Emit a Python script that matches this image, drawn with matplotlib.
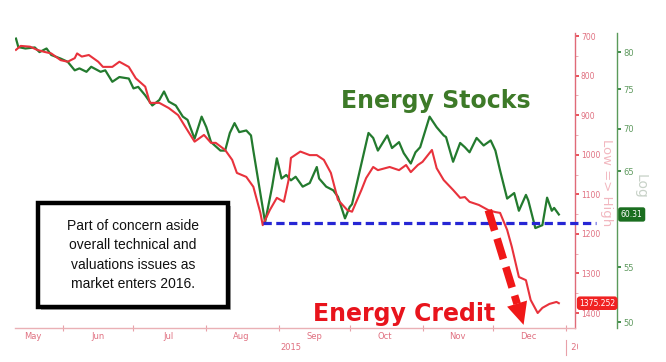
import matplotlib
matplotlib.use('Agg')
import matplotlib.pyplot as plt
import matplotlib.dates as mdates
from matplotlib.ticker import FixedLocator, MultipleLocator, NullLocator, NullFormatter
from matplotlib.patches import Rectangle
from matplotlib import patheffects as pe
from matplotlib.transforms import Bbox
import numpy as np
import pandas as pd

# ---------------- data ----------------
stock_dates = ['2015-05-12','2015-05-13','2015-05-16','2015-05-20','2015-05-22','2015-05-25','2015-05-27','2015-05-31',
               '2015-06-03','2015-06-06','2015-06-08','2015-06-11','2015-06-13','2015-06-17','2015-06-19','2015-06-22','2015-06-25','2015-06-29',
               '2015-07-01','2015-07-03','2015-07-06','2015-07-09','2015-07-12','2015-07-14','2015-07-16','2015-07-19','2015-07-22','2015-07-24','2015-07-27','2015-07-30',
               '2015-08-01','2015-08-03','2015-08-07','2015-08-09','2015-08-11','2015-08-13','2015-08-15','2015-08-18','2015-08-20','2015-08-21','2015-08-26','2015-08-29','2015-08-31',
               '2015-09-02','2015-09-04','2015-09-06','2015-09-08','2015-09-11','2015-09-14','2015-09-17','2015-09-18','2015-09-21','2015-09-24','2015-09-26','2015-09-29',
               '2015-10-01','2015-10-02','2015-10-06','2015-10-09','2015-10-11','2015-10-13','2015-10-17','2015-10-19','2015-10-22','2015-10-24','2015-10-27','2015-10-29','2015-10-31',
               '2015-11-04','2015-11-07','2015-11-10','2015-11-11','2015-11-14','2015-11-17','2015-11-19','2015-11-21','2015-11-24','2015-11-27','2015-11-30',
               '2015-12-02','2015-12-04','2015-12-07','2015-12-10','2015-12-12','2015-12-15','2015-12-16','2015-12-19','2015-12-22','2015-12-24','2015-12-26','2015-12-27','2015-12-29']
stock_values = [81.9,80.7,80.5,80.65,80.0,80.5,79.6,79.1,
                78.66,77.5,77.76,77.3,77.98,77.3,77.5,75.97,76.6,76.4,
                75.1,75.3,74.2,72.9,73.6,74.7,73.4,72.9,71.5,71.1,68.8,71.5,
                70.2,68.4,67.4,67.4,69.5,70.7,69.6,69.8,69.2,67.4,59.5,63.3,66.5,
                64.2,64.6,64.0,64.4,63.3,63.7,65.5,64.2,63.3,62.9,62.2,59.9,
                61.1,61.4,65.9,69.5,68.9,67.4,69.2,67.7,68.4,67.1,65.9,67.2,67.8,
                71.5,70.2,69.2,69.0,66.1,68.3,67.8,67.2,68.9,68.0,68.6,
                67.4,65.1,62.0,62.6,60.7,62.4,61.8,58.9,59.2,62.1,60.7,61.0,60.31]

credit_dates = ['2015-05-12','2015-05-14','2015-05-18','2015-05-21','2015-05-24','2015-05-27','2015-05-31',
                '2015-06-03','2015-06-06','2015-06-07','2015-06-09','2015-06-12','2015-06-16','2015-06-18','2015-06-22','2015-06-25','2015-06-29',
                '2015-07-02','2015-07-06','2015-07-08','2015-07-12','2015-07-16','2015-07-20','2015-07-23','2015-07-27','2015-07-31',
                '2015-08-03','2015-08-05','2015-08-09','2015-08-12','2015-08-14','2015-08-18','2015-08-21','2015-08-24','2015-08-25','2015-08-28','2015-08-31',
                '2015-09-03','2015-09-05','2015-09-06','2015-09-10','2015-09-14','2015-09-17','2015-09-20','2015-09-23','2015-09-26','2015-09-30',
                '2015-10-02','2015-10-06','2015-10-08','2015-10-11','2015-10-13','2015-10-18','2015-10-22','2015-10-25','2015-10-27','2015-10-30',
                '2015-11-01','2015-11-05','2015-11-07','2015-11-10','2015-11-14','2015-11-17','2015-11-19','2015-11-21','2015-11-25','2015-11-29',
                '2015-12-02','2015-12-04','2015-12-07','2015-12-09','2015-12-12','2015-12-15','2015-12-17','2015-12-20','2015-12-22','2015-12-25','2015-12-28','2015-12-29']
credit_values = [735,725,727,735,740,744,761,
                 765,756,744,752,748,765,778,778,765,778,
                 807,828,869,869,882,900,929,967,950,
                 970,970,988,1013,1046,1056,1081,1147,1178,1140,1109,
                 1119,1064,1008,992,1001,1001,1013,1046,1114,1140,
                 1144,1089,1059,1031,1039,1031,1039,1026,1044,1026,
                 1018,988,1034,1064,1089,1109,1107,1119,1127,1140,
                 1145,1147,1190,1233,1309,1317,1367,1400,1387,1377,1372,1375.252]

month_starts = ['2015-06-01','2015-07-01','2015-08-01','2015-09-01','2015-10-01','2015-11-01','2015-12-01','2016-01-01']
month_label_dates = ['2015-05-19','2015-06-16','2015-07-16','2015-08-16','2015-09-16','2015-10-16','2015-11-16','2015-12-16']
month_labels = ['May','Jun','Jul','Aug','Sep','Oct','Nov','Dec']
credit_ticks = [700,800,900,1000,1100,1200,1300,1400]
stock_ticks = [50,55,65,70,75,80]
support_level = 1172
support_start = '2015-08-25'
arrow_start = ('2015-11-29', 1140)
arrow_end = ('2015-12-14', 1430)
note_text = "Part of concern aside\noverall technical and\nvaluations issues as\nmarket enters 2016."

# ---------------- figure ----------------
W, H = 666, 362
fig = plt.figure(figsize=(W/100, H/100), dpi=100)
fig.patch.set_facecolor('white')
L, R, T, B = 15, 575, 33, 328
ax = fig.add_axes([L/W, 1-B/H, (R-L)/W, (B-T)/H])
ax2 = ax.twinx()

RED = '#e8323c'
GREEN = '#237a2e'
PINK = '#e07080'
GLAB = '#5f9a5f'

sd = pd.to_datetime(stock_dates)
cd = pd.to_datetime(credit_dates)

ax.plot(cd, credit_values, color=RED, lw=1.5, zorder=3)
ax2.plot(sd, stock_values, color=GREEN, lw=1.6, zorder=2)
ax.set_zorder(ax2.get_zorder() + 1)
ax.patch.set_visible(False)

# x axis
ax.set_xlim(pd.Timestamp('2015-05-11 14:00'), pd.Timestamp('2016-01-04 21:00'))
ax.xaxis.set_major_locator(FixedLocator(mdates.date2num(pd.to_datetime(month_starts))))
ax.xaxis.set_major_formatter(NullFormatter())
ax.xaxis.set_minor_locator(FixedLocator(mdates.date2num(pd.to_datetime(month_label_dates))))
ax.xaxis.set_minor_formatter(matplotlib.ticker.FixedFormatter(month_labels))
ax.tick_params(axis='x', which='major', direction='inout', length=4, color='#e8a0a8', width=0.8)
ax.tick_params(axis='x', which='minor', length=0, pad=3, labelsize=6, labelcolor=PINK)

# red axis (right)
ax.yaxis.tick_right()
ax.set_ylim(1437.9, 692.4)
ax.set_yticks(credit_ticks)
ax.set_yticklabels([str(v) for v in credit_ticks])
ax.yaxis.set_minor_locator(MultipleLocator(50))
ax.tick_params(axis='y', which='major', direction='out', length=3, width=1.2, color=RED,
               labelsize=5.5, labelcolor=PINK, pad=1.2)
ax.tick_params(axis='y', which='minor', direction='out', length=2, width=0.6, color='#e8a0a8')

for s in ['left', 'top']:
    ax.spines[s].set_visible(False)
    ax2.spines[s].set_visible(False)
ax.spines['right'].set_color('#e06a78')
ax.spines['right'].set_linewidth(1.0)
ax.spines['bottom'].set_color('#eab0b5')
ax.spines['bottom'].set_linewidth(1.0)
ax2.spines['bottom'].set_visible(False)

# green axis (log, outer right)
ax2.set_yscale('log')
ax2.set_ylim(49.5, 82.7)
ax2.yaxis.set_major_locator(FixedLocator(stock_ticks))
ax2.yaxis.set_major_formatter(matplotlib.ticker.FixedFormatter([str(v) for v in stock_ticks]))
ax2.yaxis.set_minor_locator(NullLocator())
ax2.spines['right'].set_position(('outward', 30.2))
ax2.spines['right'].set_color('#5a9a5a')
ax2.spines['right'].set_linewidth(1.0)
ax2.tick_params(axis='y', which='major', direction='out', length=3, width=1.2, color=GREEN,
                labelsize=6, labelcolor=GLAB, pad=1.5)

# support line
ax.plot([pd.Timestamp(support_start), pd.Timestamp('2016-01-14')], [support_level, support_level],
        color='#2626d4', lw=2.3, dashes=(2.6, 1.4), clip_on=False, zorder=4)

# dashed arrow: dashed shaft + solid head
p0 = ax.transData.transform((mdates.date2num(pd.Timestamp(arrow_start[0])), arrow_start[1]))
p1 = ax.transData.transform((mdates.date2num(pd.Timestamp(arrow_end[0])), arrow_end[1]))
vec = p1 - p0
unit = vec / np.hypot(*vec)
head_len = 22
pb = p1 - unit * head_len
pbs = p1 - unit * (head_len - 2)
inv = ax.transData.inverted()
d0 = inv.transform(p0)
db = inv.transform(pb)
dbs = inv.transform(pbs)
d1 = inv.transform(p1)
ax.plot([d0[0], db[0]], [d0[1], db[1]], color='#f01818', lw=5.5, dashes=(2.8, 1.1),
        solid_capstyle='butt', dash_capstyle='butt', zorder=5, clip_on=False)
ax.annotate('', xy=(d1[0], d1[1]), xytext=(dbs[0], dbs[1]), xycoords='data', textcoords='data',
            arrowprops=dict(arrowstyle='-|>,head_width=0.75,head_length=1.6', lw=0,
                            color='#f01818', shrinkA=0, shrinkB=0),
            zorder=5, annotation_clip=False)

# value tags
ax.annotate(f'{credit_values[-1]:.3f}', xy=(1, credit_values[-1]), xycoords=ax.get_yaxis_transform(),
            xytext=(3, 0), textcoords='offset points', ha='left', va='center', fontsize=5.5,
            color='white', annotation_clip=False, zorder=6,
            bbox=dict(boxstyle='round,pad=0.3,rounding_size=0.4', fc='#f02222', ec='none'))
ax2.annotate(f'{stock_values[-1]:.2f}', xy=(1, stock_values[-1]), xycoords=ax2.get_yaxis_transform(),
             xytext=(33, 0), textcoords='offset points', ha='left', va='center', fontsize=5.5,
             color='white', annotation_clip=False, zorder=6,
             bbox=dict(boxstyle='round,pad=0.35,rounding_size=0.3', fc='#1a6e1f', ec='none'))

# axis titles
fig.text(607/W, 1-183/H, 'Low => High', rotation=270, ha='center', va='center', fontsize=9.5,
         color='#f2b8c0')
fig.text(641/W, 1-186/H, 'Log', rotation=270, ha='center', va='center', fontsize=10,
         color='#c8d2c8')

# year labels
x_left, _ = ax.get_xlim()
mid2015 = (x_left + mdates.date2num(pd.Timestamp('2016-01-01'))) / 2
ax.text(mid2015, -0.065, '2015', transform=ax.get_xaxis_transform(), ha='center', va='center',
        fontsize=6, color=PINK)
j1 = mdates.date2num(pd.Timestamp('2016-01-01'))
ax.plot([j1, j1], [-0.04, -0.09], transform=ax.get_xaxis_transform(), color='#e8a0a8', lw=0.8,
        clip_on=False)
t16 = ax.text(j1, -0.065, '  2016', transform=ax.get_xaxis_transform(), ha='left', va='center',
              fontsize=6, color=PINK)
t16.set_clip_box(Bbox.from_extents(0, 0, 578, H))
t16.set_clip_on(True)

# big labels
fig.text(436/W, 1-101/H, 'Energy Stocks', ha='center', va='center', fontsize=17,
         fontweight='bold', color='#3d7a28')
fig.text(404/W, 1-314/H, 'Energy Credit', ha='center', va='center', fontsize=17,
         fontweight='bold', color='#e8141c')

# note box
box = Rectangle((38/W, 1-307/H), 190/W, 104/H, transform=fig.transFigure, facecolor='white',
                edgecolor='black', lw=3.2, zorder=10,
                path_effects=[pe.withSimplePatchShadow(offset=(2.5, -2.5), shadow_rgbFace='#777777', alpha=0.6)])
fig.patches.append(box)
fig.text(133/W, 1-255/H, note_text, ha='center', va='center', fontsize=10, linespacing=1.5,
         family=['Liberation Sans', 'DejaVu Sans'], color='#111111', zorder=11)

fig.savefig('out.png', dpi=100, facecolor='white')
